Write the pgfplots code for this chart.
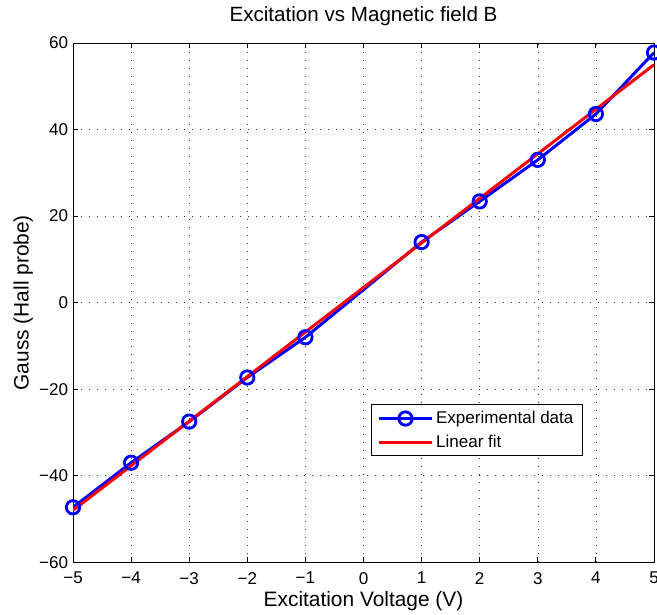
\documentclass[border=0pt]{standalone}
\usepackage{pgfplots}
\pgfplotsset{compat=1.18}
\usepackage{fontspec}
\setmainfont{Liberation Sans}
\begin{document}
\begin{tikzpicture}
\begin{axis}[
  scale only axis,
  width=409pt, height=365.5pt,
  xmin=-5, xmax=5, ymin=-60, ymax=60,
  xtick={-5,-4,-3,-2,-1,0,1,2,3,4,5},
  xticklabels={−5,−4,−3,−2,−1,0,1,2,3,4,5},
  ytick={-60,-40,-20,0,20,40,60},
  yticklabels={−60,−40,−20,0,20,40,60},
  tick align=inside,
  xtick pos=both, ytick pos=both,
  major tick length=3.5pt,
  grid=major,
  grid style={black!80, line width=0.45pt, dash pattern=on 0.7pt off 4.9pt},
  axis line style={black, line width=0.6pt},
  tick style={black, line width=0.6pt},
  ticklabel style={font=\fontsize{12}{13}\selectfont},
  xticklabel style={yshift=-3.5pt},
  title={Excitation vs Magnetic field B},
  title style={font=\fontsize{14.5}{16}\selectfont, at={(0.5,1)}, anchor=base, yshift=9.2pt},
  xlabel={Excitation Voltage (V)},
  ylabel={Gauss (Hall probe)},
  label style={font=\fontsize{14.7}{16}\selectfont},
  xlabel style={at={(0.5,0)}, anchor=base, yshift=-31pt},
  ylabel style={at={(0,0.5)}, anchor=center, rotate=0, xshift=0pt, yshift=35pt},
  legend style={at={(rel axis cs:0.878,0.204)}, anchor=south east, draw=black, line width=0.6pt,
    font=\fontsize{12}{13}\selectfont, row sep=2.5pt, inner xsep=4.5pt, inner ysep=2.5pt,
    nodes={inner sep=2pt}},
  legend cell align=left,
  legend image code/.code={\draw[mark repeat=2,mark phase=2] plot coordinates {(0cm,0cm) (0.65cm,0cm) (1.3cm,0cm)};},
]
\addplot[blue, line width=2.1pt, mark=o, mark size=4.7pt, mark options={line width=2pt}]
coordinates {(-5,-47.3) (-4,-37.0) (-3,-27.5) (-2,-17.3) (-1,-8.0) (1,14.0) (2,23.4) (3,33.0) (4,43.6) (5,57.8)};
\addlegendentry{Experimental data}
\addplot[red, line width=2.1pt] coordinates {(-5,-48.0) (5,55.0)};
\addlegendentry{Linear fit}
\end{axis}
\pgfresetboundingbox
\path (current axis.south west) ++(-51.4pt,-36.6pt) (current axis.north east) ++(2.1pt,30.3pt);
\end{tikzpicture}
\end{document}
